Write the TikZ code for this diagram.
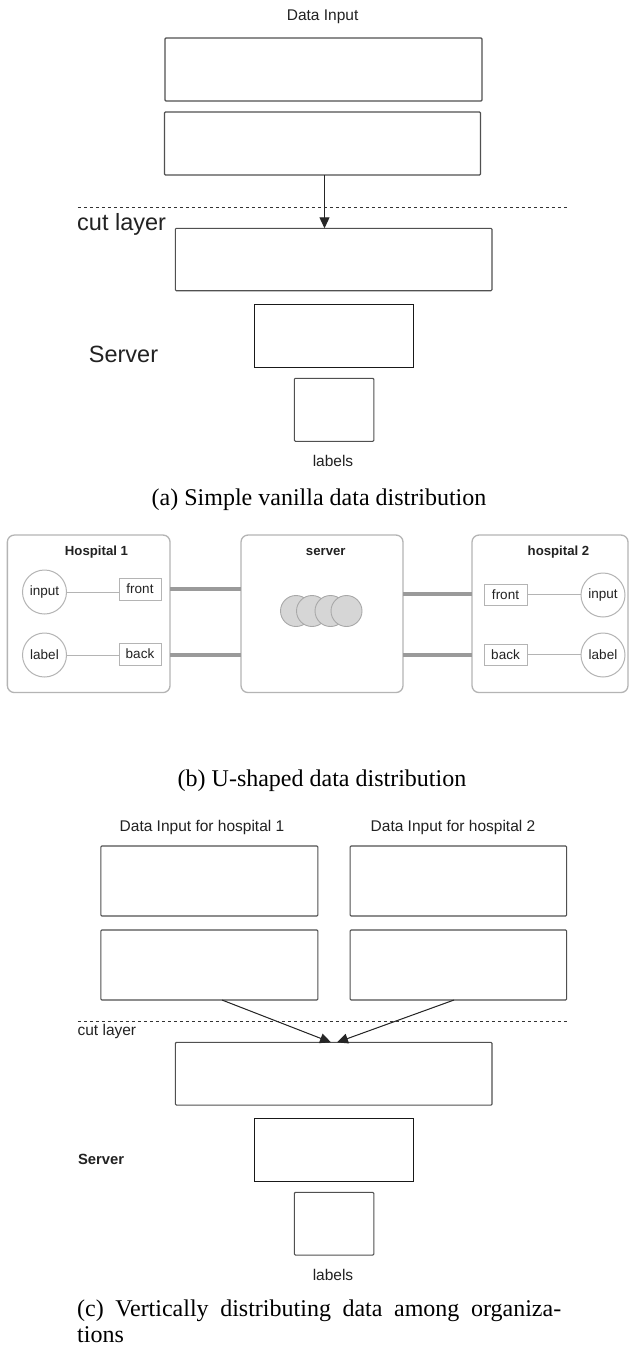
\documentclass[tikz,border=0pt]{standalone}
\usepackage{fontspec}
\setmainfont{Liberation Serif}
\setsansfont{Liberation Sans}
\usetikzlibrary{arrows.meta}
\definecolor{boxgray}{HTML}{505050}
\definecolor{lightedge}{HTML}{B4B4B4}
\definecolor{busgray}{HTML}{9A9A9A}
\definecolor{circfill}{HTML}{D6D6D6}
\definecolor{circedge}{HTML}{A8A8A8}
\definecolor{txt}{HTML}{222222}
\tikzset{
  lay/.style={draw=boxgray, line width=1.1pt, rounded corners=1pt, inner sep=0pt, outer sep=0pt},
  laydark/.style={draw=black!90, line width=1.3pt, inner sep=0pt, outer sep=0pt},
  smalltxt/.style={font=\sffamily\fontsize{15.5}{18}\selectfont, text=txt, inner sep=0pt},
  bigtxt/.style={font=\sffamily\fontsize{23.5}{28}\selectfont, text=txt, inner sep=0pt},
  srvtxt/.style={font=\sffamily\bfseries\fontsize{14.8}{18}\selectfont, text=txt, inner sep=0pt},
  captxt/.style={font=\fontsize{24}{26}\selectfont, text=black, inner sep=0pt},
  hosp/.style={draw=lightedge, line width=1.3pt, rounded corners=7pt, inner sep=0pt, outer sep=0pt},
  btxt/.style={font=\sffamily\bfseries\fontsize{13.2}{16}\selectfont, text=txt, inner sep=0pt},
  circ/.style={circle, draw=lightedge, line width=1pt, minimum size=44pt, inner sep=0pt, outer sep=0pt, text=txt, font=\sffamily\fontsize{13.5}{16}\selectfont},
  port/.style={draw=lightedge, line width=1pt, inner sep=0pt, outer sep=0pt, minimum width=42pt, minimum height=22pt, text=txt, font=\sffamily\fontsize{13.5}{16}\selectfont},
  wire/.style={draw=lightedge, line width=1pt},
  bus/.style={draw=busgray, line width=4pt},
  ball/.style={circle, fill=circfill, draw=circedge, line width=0.9pt, minimum size=31pt, inner sep=0pt},
  cutline/.style={dash pattern=on 3.5pt off 2.5pt, line width=0.9pt, draw=black!80},
  arr/.style={-{Triangle[length=11pt,width=10pt]}, line width=1pt, draw=black!85, fill=black!85}
}
\begin{document}
\begin{tikzpicture}[x=1pt,y=-1pt]
\fill[white] (0,0) rectangle (629,1347);
\useasboundingbox (0,0) rectangle (629,1347);

% ---------- (a) ----------
\node[smalltxt, anchor=base] (ain) at (322.6,20.8) {Data Input};
\node[lay, minimum width=317pt, minimum height=63pt] (A1) at (323.5,69.5) {};
\node[lay, minimum width=316pt, minimum height=63pt] (A2) at (322.5,143.5) {};
\node[lay, minimum width=316.6pt, minimum height=62.4pt] (A3) at (333.7,259.5) {};
\node[laydark, minimum width=158.5pt, minimum height=63pt] (A4) at (334,335.8) {};
\node[lay, minimum width=79.4pt, minimum height=63pt] (A5) at (334.1,409.8) {};
\coordinate (acutL) at (77.8,207.5);
\coordinate (acutR) at (567,207.5);
\draw[cutline] (acutL) -- (acutR);
\node[bigtxt, anchor=base west] (acut) at (77,230) {cut layer};
\node[bigtxt, anchor=base west] (asrv) at (88.7,362.5) {Server};
\node[smalltxt, anchor=base] (alab) at (333,466.5) {labels};
\draw[arr] ([xshift=2pt]A2.south) -- ([xshift=2pt]A2.south |- A3.north);
\node[captxt, anchor=base] (capa) at (319,505.5) {(a) Simple vanilla data distribution};

% ---------- (b) ----------
\node[hosp, minimum width=162.7pt, minimum height=157.5pt] (H1) at (88.7,613.8) {};
\node[hosp, minimum width=162pt, minimum height=157.5pt] (S) at (322,613.8) {};
\node[hosp, minimum width=156pt, minimum height=157.5pt] (H2) at (550,613.8) {};
\node[btxt] (h1t) at (96.5,552) {Hospital 1};
\node[btxt] (st) at (325.8,552) {server};
\node[btxt] (h2t) at (558.5,552) {hospital 2};

\node[circ] (h1in) at (44.5,592) {input};
\node[circ] (h1lb) at (44.5,655) {label};
\node[port] (h1f) at (140,589) {front};
\node[port] (h1b) at (140,654) {back};
\draw[wire] (h1in.east) -- (h1in.east -| h1f.west);
\draw[wire] (h1lb.east) -- (h1lb.east -| h1b.west);

\node[circ] (h2in) at (603,595) {input};
\node[circ] (h2lb) at (603,655) {label};
\node[port, minimum width=43pt, minimum height=21pt] (h2f) at (505.5,594.5) {front};
\node[port, minimum width=43pt, minimum height=21pt] (h2b) at (505.5,654.7) {back};
\draw[wire] (h2f.east) -- (h2f.east -| h2in.west);
\draw[wire] (h2b.east) -- (h2b.east -| h2lb.west);

\coordinate (yb1) at (0,589);
\coordinate (yb2) at (0,655);
\coordinate (yb3) at (0,593.5);
\coordinate (yb4) at (0,654.5);
\draw[bus] (H1.east |- yb1) -- (S.west |- yb1);
\draw[bus] (H1.east |- yb2) -- (S.west |- yb2);
\draw[bus] (S.east |- yb3) -- (H2.west |- yb3);
\draw[bus] (S.east |- yb4) -- (H2.west |- yb4);

\node[ball] (b1) at (296,611) {};
\node[ball] (b2) at (312,611) {};
\node[ball] (b3) at (330.5,611) {};
\node[ball] (b4) at (346.5,611) {};

\node[captxt, anchor=base] (capb) at (322,786.5) {(b) U-shaped data distribution};

% ---------- (c) ----------
\node[smalltxt, anchor=base] (cin1) at (202,831) {Data Input for hospital 1};
\node[smalltxt, anchor=base] (cin2) at (453,831) {Data Input for hospital 2};
\node[lay, minimum width=217pt, minimum height=70pt] (C1) at (209.3,881) {};
\node[lay, minimum width=216.5pt, minimum height=70pt] (C2) at (458.3,881) {};
\node[lay, minimum width=217pt, minimum height=70pt] (C3) at (209.3,965) {};
\node[lay, minimum width=216.5pt, minimum height=70pt] (C4) at (458.3,965) {};
\node[lay, minimum width=316.6pt, minimum height=62.7pt] (C5) at (333.7,1073.7) {};
\node[laydark, minimum width=158.5pt, minimum height=63pt] (C6) at (334,1149.8) {};
\node[lay, minimum width=79.4pt, minimum height=62.7pt] (C7) at (334.1,1223.7) {};
\coordinate (ccutL) at (77.8,1021.5);
\coordinate (ccutR) at (567,1021.5);
\draw[cutline] (ccutL) -- (ccutR);
\node[smalltxt, anchor=base west] (ccut) at (77.4,1035) {cut layer};
\node[srvtxt, anchor=base west] (csrv) at (77.8,1164) {Server};
\node[smalltxt, anchor=base] (clab) at (333,1280) {labels};
\coordinate (s1) at (222,0);
\coordinate (s2) at (454,0);
\coordinate (t1) at (331,0);
\coordinate (t2) at (337,0);
\draw[arr] (C3.south -| s1) -- (C5.north -| t1);
\draw[arr] (C4.south -| s2) -- (C5.north -| t2);

\node[captxt, anchor=base west] (capc1) at (77,1316) {\makebox[484pt][s]{(c) Vertically distributing data among organiza-}};
\node[captxt, anchor=base west] (capc2) at (77,1342) {tions};
\end{tikzpicture}
\end{document}
